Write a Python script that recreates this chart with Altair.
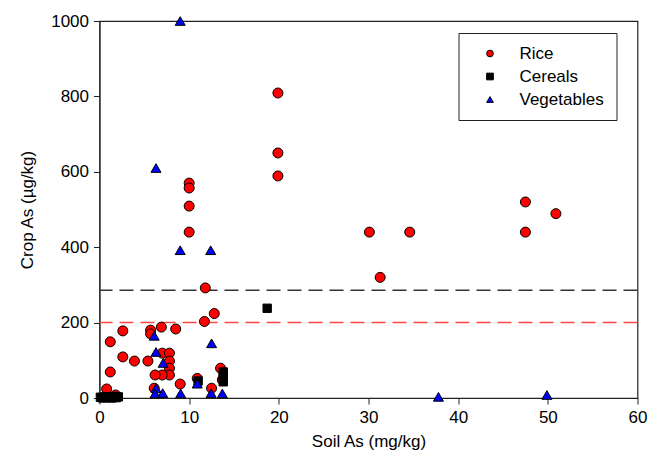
import altair as alt
import pandas as pd

categories = ["Rice", "Cereals", "Vegetables"]
cat_colors = ["#FF0000", "#000000", "#0000FF"]
cat_shapes = ["circle", "square", "triangle-up"]
cat_sizes = {"Rice": 100, "Cereals": 70, "Vegetables": 100}

rice_x = [0.8, 1.8, 1.2, 1.2, 2.6, 2.6, 3.9, 5.4, 5.7, 5.7,
          6.9, 8.5, 11.7, 12.8, 7.0, 7.8, 7.8, 7.8, 7.8, 7.0,
          6.2, 6.1, 9.0, 10.9, 13.5, 12.5, 13.7, 10.0, 10.0, 10.0,
          10.0, 11.8, 19.9, 19.9, 19.9, 30.1, 34.6, 31.3, 47.5, 47.5,
          50.9]
rice_y = [24, 8, 149, 69, 178, 109, 98, 98, 180, 170,
          188, 183, 203, 224, 119, 119, 98, 79, 61, 61,
          61, 26, 37, 52, 79, 26, 48, 570, 557, 509,
          440, 292, 809, 650, 589, 440, 440, 320, 520, 440,
          489]

cereal_x = [18.7, 13.8, 13.8, 13.8, 11.0, 0.1, 0.35, 0.6, 0.85, 1.1, 1.35, 1.6, 1.85, 2.1]
cereal_y = [238, 69, 56, 43, 45, 2, 0, 3, 1, 2, 0, 4, 1, 3]

veg_x = [9.0, 6.3, 9.0, 12.4, 6.1, 6.3, 7.1, 12.5, 6.3, 6.2, 7.05, 9.05, 10.9, 12.45, 13.7, 37.8, 49.9]
veg_y = [1000, 610, 392, 392, 165, 122, 93, 145, 26, 12, 13, 12, 38, 13, 12, 3, 8]

threshold_black = 286
threshold_red = 200

x_ticks = [0, 10, 20, 30, 40, 50, 60]
y_ticks = [0, 200, 400, 600, 800, 1000]

rows = []
for cat, xs, ys in [("Rice", rice_x, rice_y), ("Cereals", cereal_x, cereal_y), ("Vegetables", veg_x, veg_y)]:
    for xv, yv in zip(xs, ys):
        rows.append({"soil": xv, "crop": yv, "type": cat, "sz": cat_sizes[cat]})
df = pd.DataFrame(rows)
df["order"] = range(len(df))

FONT = "Liberation Sans"

xscale = alt.Scale(domain=[0, 60], nice=False)
yscale = alt.Scale(domain=[0, 1000], nice=False)

rule_black = alt.Chart(pd.DataFrame({"y": [threshold_black]})).mark_rule(
    color="#333333", strokeDash=[14, 7], strokeWidth=1.5
).encode(y=alt.Y("y:Q", scale=yscale))

rule_red = alt.Chart(pd.DataFrame({"y": [threshold_red]})).mark_rule(
    color="#FF4545", strokeDash=[14, 7], strokeWidth=1.5
).encode(y=alt.Y("y:Q", scale=yscale))

leg = dict(title=None, orient="none", legendX=359, legendY=12, symbolSize=45)

points = alt.Chart(df).mark_point(
    filled=True, stroke="black", strokeWidth=1, opacity=1
).encode(
    x=alt.X("soil:Q", scale=xscale,
            axis=alt.Axis(values=x_ticks, format="d", labelFlush=False,
                          title="Soil As (mg/kg)", titlePadding=8, labelPadding=5)),
    y=alt.Y("crop:Q", scale=yscale,
            axis=alt.Axis(values=y_ticks, format="d", labelFlush=False,
                          title="Crop As (µg/kg)", titlePadding=14, labelPadding=5)),
    color=alt.Color("type:N", scale=alt.Scale(domain=categories, range=cat_colors),
                    legend=alt.Legend(**leg)),
    shape=alt.Shape("type:N", scale=alt.Scale(domain=categories, range=cat_shapes),
                    legend=alt.Legend(**leg)),
    size=alt.Size("sz:Q", scale=None, legend=None),
    order=alt.Order("order:Q"),
)

chart = alt.layer(rule_black, rule_red, points).properties(
    width=538, height=377,
    autosize=alt.AutoSizeParams(type="none"),
    padding={"left": 91.5, "top": 13, "right": 12, "bottom": 62},
).configure_view(
    stroke="#222222", strokeWidth=1.2
).configure_axis(
    grid=False, domainColor="#222222", tickColor="#222222", tickSize=6,
    labelFont=FONT, labelFontSize=17, labelColor="black",
    titleFont=FONT, titleFontSize=17, titleFontWeight="normal", titleColor="black",
).configure_legend(
    padding=12, strokeColor="#222222", fillColor="white",
    labelFont=FONT, labelFontSize=17, labelColor="black",
    symbolSize=45, symbolStrokeColor="black", symbolStrokeWidth=1,
    symbolOffset=11, labelOffset=21, rowPadding=5,
)

chart.save("out.html", embed_options={"renderer": "svg", "actions": False})
